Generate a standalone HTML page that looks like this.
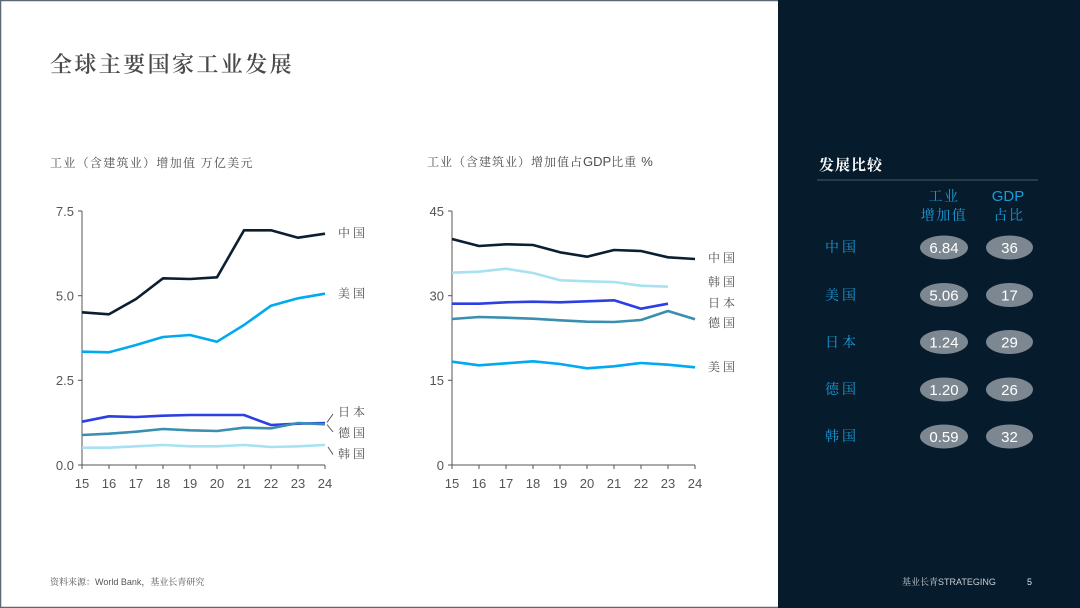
<!DOCTYPE html>
<html>
<head>
<meta charset="utf-8">
<style>
html,body{margin:0;padding:0;background:#fff;}
body{width:1080px;height:608px;overflow:hidden;position:relative;}
svg{display:block;}
.cjk{font-family:"Liberation Serif","Noto Serif CJK SC",serif;}
.num{font-family:"Liberation Sans",sans-serif;}
</style>
</head>
<body>
<svg width="1080" height="608" viewBox="0 0 1080 608" xmlns="http://www.w3.org/2000/svg">
  <!-- frame -->
  <rect x="0.5" y="0.5" width="1079" height="607" fill="#fff" stroke="#5b6875" stroke-width="1.5"/>
  <!-- dark panel -->
  <rect x="778" y="0" width="1302" height="608" fill="#061c2c"/>

  <!-- title -->
  <text x="50" y="72" class="cjk" font-size="22" font-weight="600" fill="#4a4a4a" letter-spacing="2.4">全球主要国家工业发展</text>

  <!-- subtitles -->
  <text x="50" y="167" class="cjk" font-size="12" fill="#4f4f4f" letter-spacing="1.3">工业（含建筑业）增加值 万亿美元</text>
  <text x="427" y="166" font-size="12" fill="#4f4f4f" letter-spacing="1" font-family="Liberation Serif, Noto Serif CJK SC, serif">工业（含建筑业）增加值占<tspan font-family="Liberation Sans, sans-serif" font-size="13" letter-spacing="0">GDP</tspan>比重 <tspan font-family="Liberation Sans, sans-serif" font-size="13">%</tspan></text>

  <!-- LEFT CHART -->
  <g stroke="#555" stroke-width="1" fill="none">
    <line x1="82" y1="211" x2="82" y2="465"/>
    <line x1="82" y1="465" x2="325" y2="465"/>
    <line x1="78" y1="211" x2="82" y2="211"/>
    <line x1="78" y1="295.7" x2="82" y2="295.7"/>
    <line x1="78" y1="380.3" x2="82" y2="380.3"/>
    <line x1="78" y1="465" x2="82" y2="465"/>
    <line x1="82" y1="465" x2="82" y2="469"/>
    <line x1="109" y1="465" x2="109" y2="469"/>
    <line x1="136" y1="465" x2="136" y2="469"/>
    <line x1="163" y1="465" x2="163" y2="469"/>
    <line x1="190" y1="465" x2="190" y2="469"/>
    <line x1="217" y1="465" x2="217" y2="469"/>
    <line x1="244" y1="465" x2="244" y2="469"/>
    <line x1="271" y1="465" x2="271" y2="469"/>
    <line x1="298" y1="465" x2="298" y2="469"/>
    <line x1="325" y1="465" x2="325" y2="469"/>
  </g>
  <g class="num" font-size="13" fill="#555" text-anchor="end">
    <text x="74" y="216">7.5</text>
    <text x="74" y="300.5">5.0</text>
    <text x="74" y="385">2.5</text>
    <text x="74" y="470">0.0</text>
  </g>
  <g class="num" font-size="13" fill="#555" text-anchor="middle">
    <text x="82" y="488">15</text><text x="109" y="488">16</text><text x="136" y="488">17</text>
    <text x="163" y="488">18</text><text x="190" y="488">19</text><text x="217" y="488">20</text>
    <text x="244" y="488">21</text><text x="271" y="488">22</text><text x="298" y="488">23</text>
    <text x="325" y="488">24</text>
  </g>
  <g fill="none" stroke-width="2.6" stroke-linejoin="round">
    <polyline stroke="#a8e2f0" points="82,447.7 109,447.7 136,446.3 163,445 190,446.3 217,446.3 244,445 271,447 298,446.3 325,445"/>
    <polyline stroke="#2b3fe4" points="82,421.7 109,416.3 136,417 163,415.7 190,415 217,415 244,415 271,425 298,423.7 325,423"/>
    <polyline stroke="#3a8fb0" points="82,435 109,433.7 136,431.7 163,429 190,430.3 217,431 244,427.7 271,428.3 298,423 325,424.3"/>
    <polyline stroke="#00a9f0" points="82,351.7 109,352.3 136,345 163,337 190,335 217,341.7 244,325 271,305.7 298,298.3 325,293.7"/>
    <polyline stroke="#0b1f33" points="82,312.3 109,314.3 136,299 163,278.3 190,279 217,277.3 244,230.3 271,230.3 298,237.7 325,233.7"/>
  </g>
  <g stroke="#555" stroke-width="1" fill="none">
    <line x1="333" y1="414" x2="327" y2="422.5"/>
    <line x1="327" y1="424.5" x2="333" y2="432"/>
    <line x1="328" y1="447" x2="333" y2="454.5"/>
  </g>
  <g class="cjk" font-size="12" fill="#4f4f4f" letter-spacing="3">
    <text x="338" y="237">中国</text>
    <text x="338" y="297.5">美国</text>
    <text x="338" y="416">日本</text>
    <text x="338" y="437">德国</text>
    <text x="338" y="458">韩国</text>
  </g>

  <!-- RIGHT CHART -->
  <g stroke="#555" stroke-width="1" fill="none">
    <line x1="452" y1="211" x2="452" y2="465"/>
    <line x1="452" y1="465" x2="695" y2="465"/>
    <line x1="448" y1="211" x2="452" y2="211"/>
    <line x1="448" y1="295.7" x2="452" y2="295.7"/>
    <line x1="448" y1="380.3" x2="452" y2="380.3"/>
    <line x1="448" y1="465" x2="452" y2="465"/>
    <line x1="452" y1="465" x2="452" y2="469"/>
    <line x1="479" y1="465" x2="479" y2="469"/>
    <line x1="506" y1="465" x2="506" y2="469"/>
    <line x1="533" y1="465" x2="533" y2="469"/>
    <line x1="560" y1="465" x2="560" y2="469"/>
    <line x1="587" y1="465" x2="587" y2="469"/>
    <line x1="614" y1="465" x2="614" y2="469"/>
    <line x1="641" y1="465" x2="641" y2="469"/>
    <line x1="668" y1="465" x2="668" y2="469"/>
    <line x1="695" y1="465" x2="695" y2="469"/>
  </g>
  <g class="num" font-size="13" fill="#555" text-anchor="end">
    <text x="444" y="216">45</text>
    <text x="444" y="300.5">30</text>
    <text x="444" y="385">15</text>
    <text x="444" y="470">0</text>
  </g>
  <g class="num" font-size="13" fill="#555" text-anchor="middle">
    <text x="452" y="488">15</text><text x="479" y="488">16</text><text x="506" y="488">17</text>
    <text x="533" y="488">18</text><text x="560" y="488">19</text><text x="587" y="488">20</text>
    <text x="614" y="488">21</text><text x="641" y="488">22</text><text x="668" y="488">23</text>
    <text x="695" y="488">24</text>
  </g>
  <g fill="none" stroke-width="2.6" stroke-linejoin="round">
    <polyline stroke="#00a9f0" points="452,361.7 479,365.3 506,363.3 533,361.3 560,364 587,368.3 614,366.3 641,363 668,364.7 695,367.3"/>
    <polyline stroke="#3a8fb0" points="452,319 479,317 506,317.7 533,318.7 560,320.3 587,321.7 614,322 641,320 668,311 695,319.3"/>
    <polyline stroke="#2b3fe4" points="452,303.7 479,303.7 506,302.3 533,301.7 560,302.3 587,301.3 614,300.3 641,308.7 668,303.7"/>
    <polyline stroke="#a8e2f0" points="452,272.7 479,271.7 506,268.7 533,273 560,280.3 587,281.3 614,282 641,285.7 668,286.7"/>
    <polyline stroke="#0b1f33" points="452,239 479,246 506,244.3 533,245 560,252.3 587,256.7 614,250 641,251 668,257.3 695,259"/>
  </g>
  <g class="cjk" font-size="12" fill="#4f4f4f" letter-spacing="3">
    <text x="708" y="262">中国</text>
    <text x="708" y="286">韩国</text>
    <text x="708" y="307">日本</text>
    <text x="708" y="327">德国</text>
    <text x="708" y="371">美国</text>
  </g>

  <!-- RIGHT PANEL -->
  <text x="819" y="170" class="cjk" font-size="15" font-weight="bold" fill="#ffffff" letter-spacing="1">发展比较</text>
  <line x1="817" y1="180" x2="1038" y2="180" stroke="#3d5060" stroke-width="1.2"/>
  <g class="cjk" font-size="14" fill="#1c9ad8" text-anchor="middle" letter-spacing="1.5">
    <text x="944" y="201">工业</text>
    <text x="944" y="220">增加值</text>
    <text x="1009" y="220">占比</text>
  </g>
  <text x="1008" y="201" class="num" font-size="15" fill="#1c9ad8" text-anchor="middle">GDP</text>
  <g class="cjk" font-size="14" fill="#1c9ad8" letter-spacing="3">
    <text x="825" y="252">中国</text>
    <text x="825" y="300">美国</text>
    <text x="825" y="347">日本</text>
    <text x="825" y="394">德国</text>
    <text x="825" y="441">韩国</text>
  </g>
  <g fill="#7c8792">
    <ellipse cx="944" cy="247.5" rx="24" ry="12"/>
    <ellipse cx="1009.5" cy="247.5" rx="23.5" ry="12"/>
    <ellipse cx="944" cy="295" rx="24" ry="12"/>
    <ellipse cx="1009.5" cy="295" rx="23.5" ry="12"/>
    <ellipse cx="944" cy="342" rx="24" ry="12"/>
    <ellipse cx="1009.5" cy="342" rx="23.5" ry="12"/>
    <ellipse cx="944" cy="389.5" rx="24" ry="12"/>
    <ellipse cx="1009.5" cy="389.5" rx="23.5" ry="12"/>
    <ellipse cx="944" cy="436.5" rx="24" ry="12"/>
    <ellipse cx="1009.5" cy="436.5" rx="23.5" ry="12"/>
  </g>
  <g class="num" font-size="15" fill="#ffffff" text-anchor="middle">
    <text x="944" y="253">6.84</text><text x="1009.5" y="253">36</text>
    <text x="944" y="300.5">5.06</text><text x="1009.5" y="300.5">17</text>
    <text x="944" y="347.5">1.24</text><text x="1009.5" y="347.5">29</text>
    <text x="944" y="395">1.20</text><text x="1009.5" y="395">26</text>
    <text x="944" y="442">0.59</text><text x="1009.5" y="442">32</text>
  </g>

  <!-- footers -->
  <text x="50" y="585" font-size="9" fill="#555" font-family="Liberation Serif, Noto Serif CJK SC, serif">资料来源：<tspan font-family="Liberation Sans, sans-serif">World Bank</tspan>，基业长青研究</text>
  <text x="902" y="585" font-size="9" fill="#c8cdd2" font-family="Liberation Serif, Noto Serif CJK SC, serif">基业长青<tspan font-family="Liberation Sans, sans-serif">STRATEGING</tspan></text>
  <text x="1027" y="585" font-size="9" fill="#e0e4e8" class="num">5</text>
</svg>
</body>
</html>
